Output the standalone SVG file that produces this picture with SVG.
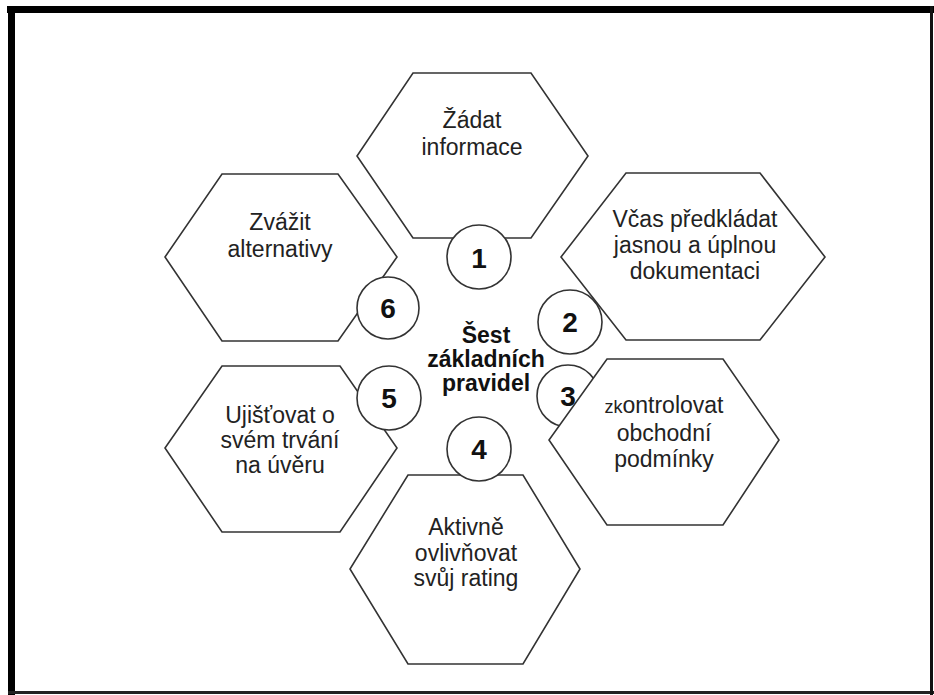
<svg xmlns="http://www.w3.org/2000/svg" width="934" height="695" viewBox="0 0 934 695">
<style>
.hex{fill:#fff;stroke:#333;stroke-width:1.6}
.cir{fill:#fff;stroke:#333;stroke-width:1.6}
.lbl{font-family:"Liberation Sans",Arial,sans-serif;font-size:23px;fill:#222;text-anchor:middle}
.num{font-family:"Liberation Sans",Arial,sans-serif;font-size:28px;font-weight:bold;fill:#111;text-anchor:middle}
.ctr{font-family:"Liberation Sans",Arial,sans-serif;font-size:23px;font-weight:bold;fill:#111;text-anchor:middle}
</style>
<rect width="934" height="695" fill="#fff"/>
<g id="frame">
<rect x="7" y="6" width="927" height="7" fill="#000"/>
<rect x="8" y="6" width="7" height="689" fill="#000"/>
<rect x="8" y="691" width="926" height="3" fill="#222"/>
<rect x="930" y="6" width="3" height="689" fill="#111"/>
</g>
<g id="connectors"></g>
<g id="n1">
<polygon class="hex" points="413,73 531,73 588,156 531,238 413,238 357,156"/>
<text class="lbl" x="472" y="128">Žádat</text>
<text class="lbl" x="472" y="155">informace</text>
</g>
<g id="n6">
<polygon class="hex" points="222,174 338,174 397,257 338,341 222,341 165,257"/>
<text class="lbl" x="280" y="230">Zvážit</text>
<text class="lbl" x="280" y="257">alternativy</text>
</g>
<g id="n2">
<polygon class="hex" points="626,173 760,173 825,257 760,340 626,340 561,257"/>
<text class="lbl" x="695" y="227">Včas předkládat</text>
<text class="lbl" x="695" y="253">jasnou a úplnou</text>
<text class="lbl" x="695" y="279">dokumentaci</text>
</g>
<g id="n5">
<polygon class="hex" points="222,366 340,366 397,448 340,532 222,532 165,448"/>
<text class="lbl" x="280" y="423">Ujišťovat o</text>
<text class="lbl" x="280" y="448">svém trvání</text>
<text class="lbl" x="280" y="473">na úvěru</text>
</g>
<g id="n4">
<polygon class="hex" points="408,475 523,475 580,569 523,664 408,664 350,569"/>
<text class="lbl" x="466" y="535">Aktivně</text>
<text class="lbl" x="466" y="561">ovlivňovat</text>
<text class="lbl" x="466" y="586">svůj rating</text>
</g>
<g id="c1">
<circle class="cir" cx="479" cy="257" r="32"/>
<text class="num" x="479" y="268">1</text>
</g>
<g id="c6">
<circle class="cir" cx="388" cy="308" r="31"/>
<text class="num" x="388" y="318">6</text>
</g>
<g id="c2">
<circle class="cir" cx="570" cy="322" r="32"/>
<text class="num" x="570" y="332">2</text>
</g>
<g id="c5">
<circle class="cir" cx="389" cy="398" r="32"/>
<text class="num" x="389" y="408">5</text>
</g>
<g id="c4">
<circle class="cir" cx="479" cy="449" r="32"/>
<text class="num" x="479" y="459">4</text>
</g>
<g id="c3">
<circle class="cir" cx="568" cy="396" r="31"/>
</g>
<g id="n3">
<polygon class="hex" points="607,359 723,359 779,440 723,525 607,525 549,440"/>
<text class="lbl" x="664" y="413"><tspan font-size="18">zk</tspan>ontrolovat</text>
<text class="lbl" x="664" y="441">obchodní</text>
<text class="lbl" x="664" y="467">podmínky</text>
</g>
<g id="c3num">
<text class="num" x="568" y="406">3</text>
</g>
<g id="center">
<text class="ctr" x="486" y="343">Šest</text>
<text class="ctr" x="486" y="367">základních</text>
<text class="ctr" x="486" y="391">pravidel</text>
</g>
</svg>
